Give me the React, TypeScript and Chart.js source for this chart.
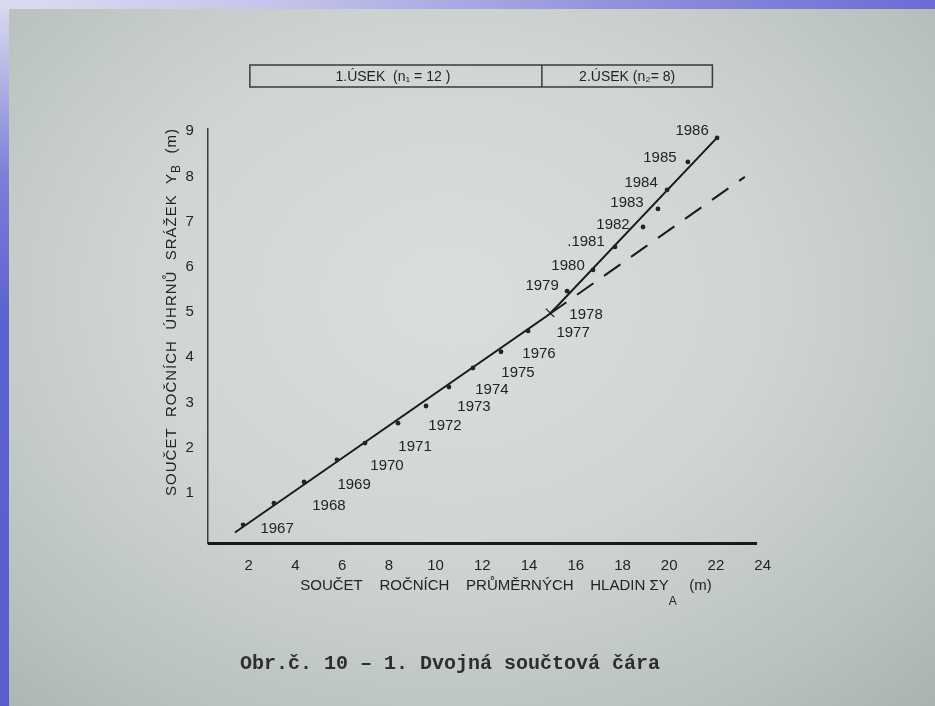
import React, { useEffect, useRef } from "react";
import { Chart, registerables } from "chart.js";

Chart.register(...registerables);

// ---------- data ----------
const years = [
  "1967", "1968", "1969", "1970", "1971", "1972", "1973", "1974", "1975", "1976",
  "1977", "1978", "1979", "1980", ".1981", "1982", "1983", "1984", "1985", "1986",
];
const sumYA = [
  1.76, 3.08, 4.37, 5.78, 6.98, 8.39, 9.59, 10.57, 11.6, 12.8,
  13.96, 14.9, 15.63, 16.74, 17.68, 18.88, 19.52, 19.91, 20.8, 22.05,
];
const sumYB = [
  0.29, 0.77, 1.24, 1.73, 2.1, 2.54, 2.92, 3.34, 3.76, 4.12,
  4.58, 4.98, 5.46, 5.93, 6.44, 6.88, 7.28, 7.7, 8.32, 8.85,
];
const n1 = 12;
const fitLineX = [1.41, 14.9, 22.09];
const fitLineY = [0.12, 4.96, 8.88];
const extLineX = [14.9, 23.24];
const extLineY = [4.96, 7.99];
const xTicks = [2, 4, 6, 8, 10, 12, 14, 16, 18, 20, 22, 24];
const yTicks = [1, 2, 3, 4, 5, 6, 7, 8, 9];
const sectionLabels = ["1.ÚSEK  (n₁ = 12 )", "2.ÚSEK (n₂= 8)"];
const sectionBounds = [2.05, 14.55, 21.85];
const xTitleParts = ["SOUČET    ROČNÍCH    PRŮMĚRNÝCH    HLADIN ΣY", "A", "   (m)"];
const yTitleParts = ["SOUČET  ROČNÍCH  ÚHRNŮ  SRÁŽEK  Y", "B", "  (m)"];
const caption = "Obr.č. 10 – 1. Dvojná součtová čára";

// ---------- style ----------
const X_MIN = 0.25;
const X_MAX = 24.2;
const Y_MIN = -0.12;
const Y_MAX = 9.05;
const X_AXIS_END = 23.76;
const INK = "#232323";
const FONT = "'Liberation Sans', Arial, sans-serif";
const labelDx = [34, 55, 50, 50, 50, 47, 48, 43, 45, 38, 45, 36, -25, -25, -29, -30, -31, -26, -28, -25];
const labelDy = [4, 3, 3, 6, 4, 3, 1, 3, 5, 2, 2, 2, -5, -4, -5, -2, -6, -7, -4, -7];

function drawRich(
  ctx: CanvasRenderingContext2D,
  parts: string[],
  cx: number,
  cy: number,
  rot: number,
  size: number,
  subSize: number,
  subShift: number,
  spacing: string
) {
  ctx.save();
  ctx.translate(cx, cy);
  ctx.rotate(rot);
  (ctx as any).letterSpacing = spacing;
  ctx.textBaseline = "middle";
  ctx.textAlign = "left";
  const fonts = parts.map((_, i) => `${i === 1 ? subSize : size}px ${FONT}`);
  const widths = parts.map((p, i) => {
    ctx.font = fonts[i];
    return ctx.measureText(p).width;
  });
  const total = widths.reduce((a, b) => a + b, 0);
  let xx = -total / 2;
  parts.forEach((p, i) => {
    ctx.font = fonts[i];
    ctx.fillText(p, xx, i === 1 ? subShift : 0);
    xx += widths[i];
  });
  ctx.restore();
}

const overlay = {
  id: "overlay",
  beforeDatasetsDraw(chart: any) {
    const { ctx, scales } = chart;
    const x = scales.x;
    const y = scales.y;
    ctx.save();
    ctx.strokeStyle = "#1a1a1a";
    ctx.lineWidth = 3;
    ctx.beginPath();
    ctx.moveTo(x.getPixelForValue(X_MIN), y.getPixelForValue(Y_MIN));
    ctx.lineTo(x.getPixelForValue(X_AXIS_END), y.getPixelForValue(Y_MIN));
    ctx.stroke();
    ctx.restore();
  },
  afterDraw(chart: any) {
    const { ctx, scales } = chart;
    const x = scales.x;
    ctx.save();
    ctx.fillStyle = INK;
    // year labels
    const meta = chart.getDatasetMeta(0);
    ctx.font = `15px ${FONT}`;
    ctx.textAlign = "center";
    ctx.textBaseline = "middle";
    meta.data.forEach((el: any, i: number) => {
      ctx.fillText(years[i], el.x + labelDx[i], el.y + labelDy[i]);
    });

    // header box
    const bx = sectionBounds.map((v) => x.getPixelForValue(v));
    const top = 65;
    const bottom = 87;
    ctx.strokeStyle = "#3a3a3a";
    ctx.lineWidth = 1.5;
    ctx.strokeRect(bx[0], top, bx[2] - bx[0], bottom - top);
    ctx.beginPath();
    ctx.moveTo(bx[1], top);
    ctx.lineTo(bx[1], bottom);
    ctx.stroke();
    ctx.font = `14px ${FONT}`;
    ctx.fillText(sectionLabels[0], (bx[0] + bx[1]) / 2 - 3, (top + bottom) / 2 + 1);
    ctx.fillText(sectionLabels[1], (bx[1] + bx[2]) / 2, (top + bottom) / 2 + 1);

    // axis titles
    drawRich(ctx, xTitleParts, 506, 586, 0, 15, 12, 16, "0px");
    drawRich(ctx, yTitleParts, 172, 312, -Math.PI / 2, 15, 12, 5, "1px");

    // caption
    ctx.font = `bold 20px 'Liberation Mono', 'Courier New', monospace`;
    ctx.textAlign = "center";
    ctx.textBaseline = "middle";
    ctx.fillStyle = "#2e2e2e";
    ctx.fillText(caption, 450, 664);
    ctx.restore();
  },
};

export default function App() {
  const ref = useRef<HTMLCanvasElement>(null);

  useEffect(() => {
    const canvas = ref.current;
    if (!canvas) return;
    const chart = new Chart(canvas, {
      type: "scatter",
      data: {
        datasets: [
          {
            label: "roky",
            data: sumYA.map((v, i) => ({ x: v, y: sumYB[i] })),
            backgroundColor: INK,
            borderColor: INK,
            pointStyle: (c: any) => (c.dataIndex === n1 - 1 ? "crossRot" : "circle"),
            pointRadius: (c: any) => (c.dataIndex === n1 - 1 ? 6 : 2.4),
            borderWidth: (c: any) => (c.dataIndex === n1 - 1 ? 1.3 : 0),
            showLine: false,
          } as any,
          {
            label: "čára",
            data: fitLineX.map((v, i) => ({ x: v, y: fitLineY[i] })),
            showLine: true,
            borderColor: "#1a1a1a",
            borderWidth: 2,
            pointRadius: 0,
            fill: false,
          },
          {
            label: "prodloužení",
            data: extLineX.map((v, i) => ({ x: v, y: extLineY[i] })),
            showLine: true,
            borderColor: "#1a1a1a",
            borderWidth: 2,
            borderDash: [20, 13],
            pointRadius: 0,
            fill: false,
          },
        ],
      },
      options: {
        responsive: false,
        animation: false,
        events: [],
        layout: { padding: { left: 167.84, right: 167.7, top: 128.9, bottom: 122.6 } },
        plugins: { legend: { display: false }, tooltip: { enabled: false }, title: { display: false } },
        scales: {
          x: {
            type: "linear",
            min: X_MIN,
            max: X_MAX,
            afterFit: (s: any) => {
              s.height = 40;
            },
            afterBuildTicks: (s: any) => {
              s.ticks = xTicks.map((v) => ({ value: v }));
            },
            grid: { display: false, drawTicks: false },
            border: { display: false },
            ticks: { color: INK, font: { family: FONT, size: 15 }, padding: 13, maxRotation: 0, autoSkip: false },
          },
          y: {
            type: "linear",
            min: Y_MIN,
            max: Y_MAX,
            afterFit: (s: any) => {
              s.width = 40;
            },
            afterBuildTicks: (s: any) => {
              s.ticks = yTicks.map((v) => ({ value: v }));
            },
            grid: { display: false, drawTicks: false },
            border: { display: true, color: "#3a3f4c", width: 1.5 },
            ticks: { color: INK, font: { family: FONT, size: 15 }, padding: 14, autoSkip: false },
          },
        },
      },
      plugins: [overlay],
    } as any);
    return () => chart.destroy();
  }, []);

  return (
    <div
      style={{
        position: "fixed",
        left: 0,
        top: 0,
        width: 935,
        height: 706,
        overflow: "hidden",
        background:
          "radial-gradient(ellipse 75% 80% at 48% 42%, #dadedc 0%, #d0d5d3 45%, #b9c2bf 80%, #a9b3b0 100%)",
      }}
    >
      <div
        style={{
          position: "absolute",
          left: 0,
          top: 0,
          width: 935,
          height: 9,
          background: "linear-gradient(to right, #dcdcf0 0%, #c4c4ea 30%, #9393dd 65%, #6b6bd5 100%)",
        }}
      />
      <div
        style={{
          position: "absolute",
          left: 0,
          top: 0,
          width: 9,
          height: 706,
          background:
            "linear-gradient(to bottom, #dcdcf0 0%, #b8b8e6 10%, #7a7fd8 25%, #5e62cf 45%, #5a5ecd 100%)",
        }}
      />
      <canvas ref={ref} width={935} height={706} style={{ position: "absolute", left: 0, top: 0 }} />
    </div>
  );
}
